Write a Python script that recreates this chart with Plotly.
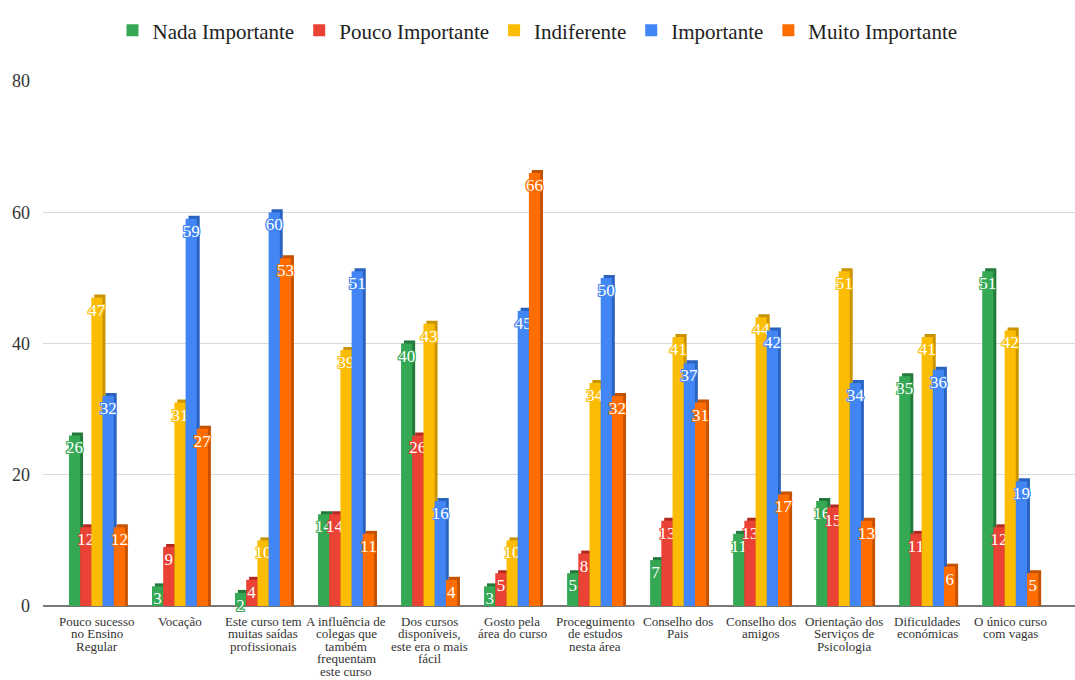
import plotly.graph_objects as go

categories = [
    "Pouco sucesso<br>no Ensino<br>Regular",
    "Vocação",
    "Este curso tem<br>muitas saídas<br>profissionais",
    "A influência de<br>colegas que<br>também<br>frequentam<br>este curso",
    "Dos cursos<br>disponíveis,<br>este era o mais<br>fácil",
    "Gosto pela<br>área do curso",
    "Proceguimento<br>de estudos<br>nesta área",
    "Conselho dos<br>Pais",
    "Conselho dos<br>amigos",
    "Orientação dos<br>Serviços de<br>Psicologia",
    "Dificuldades<br>económicas",
    "O único curso<br>com vagas",
]

nada_importante = [26, 3, 2, 14, 40, 3, 5, 7, 11, 16, 35, 51]
pouco_importante = [12, 9, 4, 14, 26, 5, 8, 13, 13, 15, 11, 12]
indiferente = [47, 31, 10, 39, 43, 10, 34, 41, 44, 51, 41, 42]
importante = [32, 59, 60, 51, 16, 45, 50, 37, 42, 34, 36, 19]
muito_importante = [12, 27, 53, 11, 4, 66, 32, 31, 17, 13, 6, 5]

series_names = ["Nada Importante", "Pouco Importante", "Indiferente",
                "Importante", "Muito Importante"]
series_values = [nada_importante, pouco_importante, indiferente,
                 importante, muito_importante]
colors = ["#34a853", "#ea4335", "#fbbc04", "#4285f4", "#ff6d01"]
side_colors = ["#237a3b", "#b22a1f", "#c99400", "#2a62c0", "#c45200"]

FONT = "Liberation Serif, Times New Roman, serif"
bar_w = 0.135
n = len(series_names)
x_idx = list(range(len(categories)))

fig = go.Figure()

for i, (name, vals) in enumerate(zip(series_names, series_values)):
    off = -n * bar_w / 2 + i * bar_w
    # darker depth face drawn behind each bar for the extruded look
    fig.add_trace(go.Bar(
        x=x_idx, y=[v + 0.45 for v in vals], base=0,
        width=bar_w, offset=off + 0.035,
        marker=dict(color=side_colors[i], line=dict(width=0)),
        showlegend=False, hoverinfo="skip",
    ))
for i, (name, vals) in enumerate(zip(series_names, series_values)):
    off = -n * bar_w / 2 + i * bar_w
    c = colors[i]
    outline = ", ".join(f"{dx}px {dy}px 0 {c}" for dx, dy in
                        [(1, 0), (-1, 0), (0, 1), (0, -1), (1, 1), (-1, -1), (1, -1), (-1, 1)])
    fig.add_trace(go.Bar(
        x=x_idx, y=vals, name=name,
        width=bar_w, offset=off,
        marker=dict(color=c, line=dict(width=0)),
        text=[str(v) for v in vals],
        textposition="inside", insidetextanchor="end",
        textangle=0, constraintext="none", cliponaxis=False,
        textfont=dict(family=FONT, size=17, color="white", shadow=outline),
    ))

# category labels, one annotation per line for tight line spacing
annotations = []
for i, label in enumerate(categories):
    for j, line in enumerate(label.split("<br>")):
        annotations.append(dict(
            x=i, y=0, xref="x", yref="y", text=line, showarrow=False,
            xanchor="center", yanchor="middle", yshift=-(15 + 12.5 * j),
            borderpad=0,
            font=dict(family=FONT, size=13, color="#333333"),
        ))

fig.update_layout(
    width=1075, height=680,
    barmode="overlay",
    plot_bgcolor="white", paper_bgcolor="white",
    margin=dict(l=43, r=0, t=81, b=74),
    font=dict(family=FONT, color="#222222"),
    legend=dict(
        orientation="h", x=0.5, xanchor="center", xref="container",
        y=0.985, yanchor="top", yref="container",
        font=dict(family=FONT, size=21, color="#222222"),
        itemwidth=30, traceorder="normal",
    ),
    annotations=annotations,
)

fig.update_xaxes(
    range=[-0.65, 11.78], automargin=False,
    showticklabels=False,
    showgrid=False, ticks="", showline=False, zeroline=False,
)
fig.update_yaxes(
    range=[0, 80], dtick=20, automargin=False,
    tickfont=dict(family=FONT, size=18, color="#333333"),
    gridcolor="#d9d9d9", gridwidth=1,
    zeroline=True, zerolinecolor="#777777", zerolinewidth=2,
    ticks="", ticklabelstandoff=12,
)

fig.write_html("out.html")
